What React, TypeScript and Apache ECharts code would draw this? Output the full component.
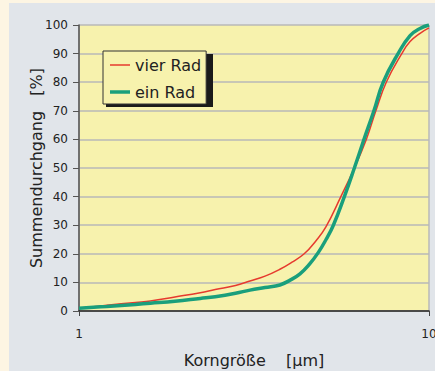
import React, { useEffect, useRef } from "react";
import * as echarts from "echarts";

// ---- data ----
const seriesNames = ["vier Rad", "ein Rad"];
const xAxisTitle = "Korngröße    [µm]";
const yAxisTitle = "Summendurchgang   [%]";

const vierRadX = [1.0, 1.2, 1.45, 1.6, 1.88, 2.22, 2.45, 2.8, 3.08, 3.4, 3.75, 4.05, 4.4, 4.75, 5.08, 5.6, 6.12, 6.62, 7.05, 7.55, 8.36, 8.83, 9.43, 10];
const vierRadY = [1.0, 2.0, 3.0, 3.5, 4.9, 6.4, 7.5, 8.9, 10.5, 12.2, 14.6, 17.0, 20.0, 24.5, 29.5, 40, 50, 60, 70, 80, 90, 94.2, 97.1, 99.0];

const einRadX = [1.0, 1.2, 1.45, 1.6, 1.88, 2.22, 2.45, 2.8, 3.08, 3.4, 3.75, 4.01, 4.28, 4.55, 4.83, 5.08, 5.33, 5.73, 6.12, 6.52, 6.96, 7.4, 8.16, 8.83, 9.43, 10];
const einRadY = [1.0, 1.6, 2.3, 2.7, 3.4, 4.4, 5.0, 6.2, 7.3, 8.2, 9.1, 10.8, 13.0, 16.3, 20.5, 25.0, 30, 40, 50, 60, 70, 80, 90, 96.3, 98.8, 100];

const yMin = 0;
const yMax = 100;
const yInterval = 10;
const xMin = 1;
const xMax = 10;

const FONT = "DejaVu Sans";
const TEXT = "#222222";
const RED = "#e63a2e";
const GREEN = "#1a9f7c";

export default function App() {
  const ref = useRef<HTMLDivElement>(null);

  useEffect(() => {
    if (!ref.current) return;
    const chart = echarts.init(ref.current, undefined, { renderer: "svg" });
    const zip = (xs: number[], ys: number[]) => xs.map((x, i) => [x, ys[i]]);

    chart.setOption({
      animation: false,
      backgroundColor: "#fdf5e3",
      textStyle: { fontFamily: FONT },
      graphic: [
        {
          type: "rect",
          z: -10,
          shape: { x: 9, y: 3, width: 440, height: 380 },
          style: { fill: "#e1e5ea" },
          silent: true,
        },
        {
          type: "rect",
          z: 5,
          shape: { x: 106, y: 54, width: 107, height: 53 },
          style: { fill: "#1a1a1a" },
          silent: true,
        },
      ],
      grid: {
        left: 79,
        right: 6,
        top: 25,
        bottom: 60,
        show: true,
        backgroundColor: "#f7f2ad",
        borderWidth: 0,
        outerBoundsMode: "none",
        containLabel: false,
      },
      legend: {
        z: 8,
        orient: "vertical",
        left: 103,
        top: 51,
        width: 107,
        padding: [6, 5, 4, 7],
        itemGap: 11,
        itemWidth: 20,
        itemHeight: 14,
        symbolKeepAspect: true,
        backgroundColor: "#f7f2ad",
        borderColor: "#333333",
        borderWidth: 1,
        data: [
          { name: seriesNames[0], icon: "path://M0,0H40V3H0Z", itemStyle: { color: RED } },
          { name: seriesNames[1], icon: "path://M0,0H40V7H0Z", itemStyle: { color: GREEN } },
        ],
        textStyle: { fontFamily: FONT, fontSize: 16, color: TEXT },
      },
      xAxis: {
        type: "log",
        logBase: 10,
        min: xMin,
        max: xMax,
        name: xAxisTitle,
        nameLocation: "middle",
        nameGap: 41,
        nameMoveOverlap: false,
        nameTextStyle: { fontFamily: FONT, fontSize: 16, color: TEXT },
        axisLine: { onZero: false, lineStyle: { color: "#222222", width: 1.5 } },
        axisTick: { show: true, length: 5, lineStyle: { color: "#444444" } },
        axisLabel: { margin: 17, fontFamily: FONT, fontSize: 12, color: TEXT, alignMaxLabel: "center", alignMinLabel: "center" },
        splitLine: { show: true, lineStyle: { color: "#b8b8b8", width: 1.5 } },
        minorTick: { show: false },
      },
      yAxis: {
        type: "value",
        min: yMin,
        max: yMax,
        interval: yInterval,
        name: yAxisTitle,
        nameLocation: "middle",
        nameGap: 35,
        nameMoveOverlap: false,
        nameTextStyle: { fontFamily: FONT, fontSize: 16, color: TEXT },
        axisLine: { show: true, lineStyle: { color: "#555555", width: 1.5 } },
        axisTick: { show: true, length: 6, lineStyle: { color: "#555555" } },
        axisLabel: { margin: 11, fontFamily: FONT, fontSize: 12, color: TEXT },
        splitLine: { show: true, lineStyle: { color: "#b8b8b8", width: 1.5 } },
      },
      series: [
        {
          name: seriesNames[0],
          type: "line",
          symbol: "none",
          smooth: 0.45,
          data: zip(vierRadX, vierRadY),
          lineStyle: { color: RED, width: 1.5 },
          itemStyle: { color: RED },
          z: 2,
        },
        {
          name: seriesNames[1],
          type: "line",
          symbol: "none",
          smooth: 0.45,
          data: zip(einRadX, einRadY),
          lineStyle: { color: GREEN, width: 3.5 },
          itemStyle: { color: GREEN },
          z: 3,
        },
      ],
    });

    return () => chart.dispose();
  }, []);

  return (
    <div
      ref={ref}
      style={{ position: "fixed", left: 0, top: 0, width: 435, height: 371 }}
    />
  );
}
